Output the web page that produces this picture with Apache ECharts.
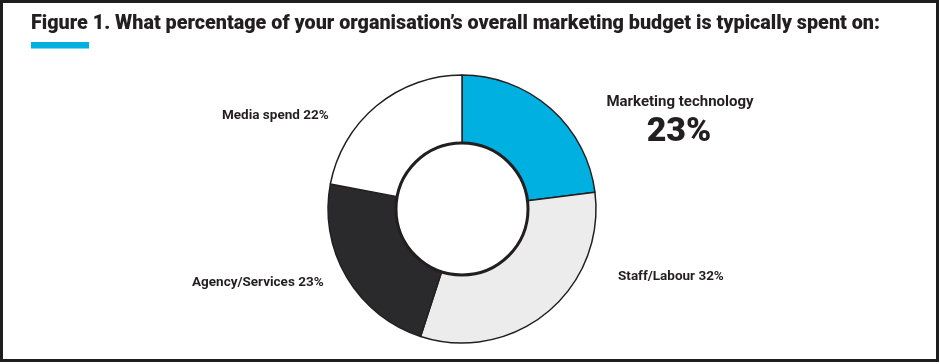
<!DOCTYPE html>
<html><head><meta charset="utf-8">
<script src="https://cdn.jsdelivr.net/npm/echarts@6/dist/echarts.min.js"></script>
<style>html,body{margin:0;padding:0;background:#fff}#c{width:940px;height:364px}</style>
</head><body><div id="c"></div>
<script>
const categories = ['Marketing technology', 'Staff/Labour', 'Agency/Services', 'Media spend'];
const values = [23, 32, 23, 22];
const colors = ['#00B0E0', '#EBECEB', '#2A2A2C', '#FFFFFF'];
const titleText = 'Figure 1. What percentage of your organisation\u2019s overall marketing budget is typically spent on:';

const chart = echarts.init(document.getElementById('c'), null, {renderer: 'canvas'});
const font = 'Roboto, "Noto Sans", sans-serif';
const txt = '#231F20';
const cx = 462, cy = 209;

// label placements (style only), y = vertical middle of text
const labelPos = [
  null,
  {x: 618, y: 277},
  {x: 192, y: 283},
  {x: 222, y: 116}
];
const graphics = [
  {type: 'rect', shape: {x: 1.5, y: 1.5, width: 936, height: 359}, style: {fill: 'none', stroke: '#1E1E1E', lineWidth: 3}, z: 10},
  {type: 'text', x: 31, y: 24, style: {text: titleText, font: '900 19.75px ' + font, fill: txt, textAlign: 'left', textVerticalAlign: 'middle'}},
  {type: 'rect', shape: {x: 31, y: 42, width: 58, height: 6.5}, style: {fill: '#00B0E0'}},
  {type: 'circle', shape: {cx: cx, cy: cy, r: 66}, style: {fill: 'none', stroke: '#231F20', lineWidth: 3}, z: 20},
  {type: 'text', x: 680, y: 102, style: {text: categories[0], font: 'bold 15px ' + font, fill: txt, textAlign: 'center', textVerticalAlign: 'middle'}},
  {type: 'text', x: 679, y: 132, style: {text: values[0] + '%', font: '900 34px ' + font, fill: txt, textAlign: 'center', textVerticalAlign: 'middle'}}
];
for (let i = 1; i < categories.length; i++) {
  const p = labelPos[i];
  graphics.push({type: 'text', x: p.x, y: p.y, style: {text: categories[i] + ' ' + values[i] + '%', font: 'bold 13.5px ' + font, fill: txt, textAlign: 'left', textVerticalAlign: 'middle'}});
}

chart.setOption({
  animation: false,
  backgroundColor: '#fff',
  series: [{
    type: 'pie',
    center: [cx, cy],
    radius: [66, 134],
    startAngle: 90,
    clockwise: true,
    label: {show: false},
    labelLine: {show: false},
    emphasis: {disabled: true},
    itemStyle: {borderColor: '#231F20', borderWidth: 1.5},
    data: categories.map((n, i) => ({name: n, value: values[i], itemStyle: {color: colors[i]}}))
  }],
  graphic: graphics
});
</script></body></html>
